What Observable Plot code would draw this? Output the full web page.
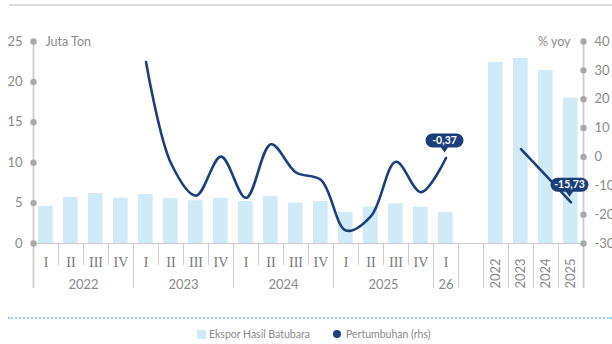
<!DOCTYPE html>
<html>
<head>
<meta charset="utf-8">
<script src="https://cdn.jsdelivr.net/npm/d3@7"></script>
<script src="https://cdn.jsdelivr.net/npm/@observablehq/plot@0.6"></script>
<style>
  body { margin: 0; background: #fff; font-family: Lato, sans-serif; }
  #wrap { position: relative; width: 612px; height: 344px; overflow: hidden; }
  #chart { position: absolute; left: 0; top: 0; }
  .topline { position: absolute; left: 9px; top: 4px; width: 603px; border-top: 2px solid #dedede; }
  .dotline { position: absolute; left: 8px; top: 317px; width: 604px; border-top: 2px dotted #93d5f2; }
  .leg { position: absolute; top: 327px; font-size: 10.5px; color: #8a8a8a; line-height: 14px; white-space: nowrap; }
  .sw { position: absolute; }
</style>
</head>
<body>
<div id="wrap">
  <div class="topline"></div>
  <div id="chart"></div>
  <div class="dotline"></div>
  <div class="sw" style="left:197px;top:330px;width:9px;height:9px;background:#d0ebf7"></div>
  <div class="leg" style="left:209px">Ekspor Hasil Batubara</div>
  <div class="sw" style="left:333px;top:330px;width:8px;height:8px;border-radius:50%;background:#1c3f7c"></div>
  <div class="leg" style="left:346px">Pertumbuhan (rhs)</div>
</div>
<script>
// ---- data ----
const quarterLabels = ["I","II","III","IV","I","II","III","IV","I","II","III","IV","I","II","III","IV","I"];
const yearGroups = ["2022","2023","2024","2025","26"];
const yearGroupSizes = [4,4,4,4,1];
const quarterlyExport = [4.6,5.7,6.2,5.6, 6.05,5.55,5.3,5.6, 5.2,5.8,5.0,5.2, 3.85,4.5,4.9,4.5, 3.85];
// yoy growth, 2023-Q1 .. 2026-Q1
const quarterlyGrowth = [32.9,-2.2,-13.4,0.1, -14.2,4.4,-5.4,-8.0, -25.5,-20.5,-1.7,-12.2, -0.37];
const annualLabels = ["2022","2023","2024","2025"];
const annualExport = [22.4,22.9,21.4,18.0];
const annualGrowth = [null,2.7,-6.5,-15.73];
const leftTicks = [0,5,10,15,20,25];
const rightTicks = [-30,-20,-10,0,10,20,30,40];
const callouts = [{label:"-0,37"},{label:"-15,73"}];

// ---- layout helpers ----
const nQ = quarterLabels.length;          // 17 quarterly slots
const annualStart = nQ + 1;               // one empty slot, then annual slots
const nSlots = annualStart + annualLabels.length;
const toLeft = v => (v + 30) * 25 / 70;   // rhs -> lhs units

const bars = [
  ...quarterlyExport.map((v,i)=>({slot:i, v})),
  ...annualExport.map((v,i)=>({slot:annualStart+i, v}))
];
const qLine = quarterlyGrowth.map((g,i)=>({slot:4+i, g}));
const aLine = annualGrowth.map((g,i)=>({slot:annualStart+i, g})).filter(d=>d.g!=null);
const qLabels = quarterLabels.map((q,i)=>({slot:i, q}));
let acc = 0;
const yLabels = yearGroups.map((y,i)=>{ const c = acc + yearGroupSizes[i]/2; acc += yearGroupSizes[i]; return {y, c}; });
const groupEdges = [0]; acc = 0; yearGroupSizes.forEach(s=>{acc+=s; groupEdges.push(acc);});
const fullSeps = [...groupEdges, ...d3.range(annualStart, nSlots+1)];
const shortSeps = d3.range(1, nQ).filter(s=>!groupEdges.includes(s));
const calloutPts = [
  {...qLine[qLine.length-1], label: callouts[0].label},
  {...aLine[aLine.length-1], label: callouts[1].label}
];

const navy = "#1c3f7c";
const grey = "#8a8a8a";
const axisGrey = "#cccccc";

const pill = {
  draw(ctx) {
    const w = 38, h = 14, r = 7, cy = -17.5;
    const top = cy - h/2, bot = cy + h/2;
    ctx.moveTo(-w/2 + r, top);
    ctx.lineTo(w/2 - r, top);
    ctx.arc(w/2 - r, cy, r, -Math.PI/2, Math.PI/2);
    ctx.lineTo(3.5, bot);
    ctx.lineTo(0, bot + 5);
    ctx.lineTo(-3.5, bot);
    ctx.lineTo(-w/2 + r, bot);
    ctx.arc(-w/2 + r, cy, r, Math.PI/2, 3*Math.PI/2);
    ctx.closePath();
  }
};

const chart = Plot.plot({
  width: 612,
  height: 300,
  marginLeft: 33,
  marginRight: 29,
  marginTop: 41,
  marginBottom: 57,
  style: {fontFamily: "Lato, sans-serif", background: "transparent"},
  x: {domain: [0, nSlots], axis: null},
  y: {domain: [0, 25], axis: null},
  marks: [
    Plot.rectY(bars, {x1: d=>d.slot, x2: d=>d.slot+1, y: "v", insetLeft: 5, insetRight: 5.3, fill: "#d0ebf7"}),
    Plot.ruleY([0], {stroke: axisGrey, strokeWidth: 1.2}),
    Plot.ruleX(shortSeps, {y1: 0, y2: 0, insetBottom: -22, stroke: axisGrey, strokeWidth: 1}),
    Plot.ruleX(fullSeps.filter(s=>s!==0 && s!==nSlots), {y1: 0, y2: 0, insetBottom: -45, stroke: axisGrey, strokeWidth: 1}),
    Plot.ruleX([0, nSlots], {insetBottom: -45, stroke: axisGrey, strokeWidth: 1.8}),
    Plot.dot(leftTicks, {x: 0, y: d=>d, r: 3.2, fill: "#a9a9a9"}),
    Plot.dot(rightTicks, {x: nSlots, y: d=>toLeft(d), r: 3.2, fill: "#a9a9a9"}),
    Plot.text(leftTicks, {x: 0, y: d=>d, text: d=>String(d), textAnchor: "end", dx: -11, fill: grey, fontSize: 13}),
    Plot.text(rightTicks, {x: nSlots, y: d=>toLeft(d), text: d=>String(d), textAnchor: "start", dx: 11, fill: grey, fontSize: 13}),
    Plot.text(["Juta Ton"], {frameAnchor: "top-left", dx: 12, lineAnchor: "middle", textAnchor: "start", fill: grey, fontSize: 12.5}),
    Plot.text(["% yoy"], {frameAnchor: "top-right", dx: -13, lineAnchor: "middle", textAnchor: "end", fill: grey, fontSize: 12.5}),
    Plot.text(qLabels, {x: d=>d.slot+0.5, text: "q", frameAnchor: "bottom", lineAnchor: "middle", dy: 19, fill: "#7a7a7a", fontSize: 14, fontFamily: "Liberation Serif, serif"}),
    Plot.text(yLabels, {x: "c", text: "y", frameAnchor: "bottom", lineAnchor: "middle", dy: 41, fill: grey, fontSize: 13}),
    Plot.text(annualLabels.map((a,i)=>({a, slot: annualStart+i})), {x: d=>d.slot+0.5, text: "a", frameAnchor: "bottom", rotate: -90, textAnchor: "start", lineAnchor: "middle", dy: 45, fill: grey, fontSize: 13}),
    Plot.line(qLine, {x: d=>d.slot+0.5, y: d=>toLeft(d.g), curve: "catmull-rom", stroke: navy, strokeWidth: 2.6}),
    Plot.line(aLine, {x: d=>d.slot+0.5, y: d=>toLeft(d.g), stroke: navy, strokeWidth: 2.6}),
    Plot.dot(calloutPts, {x: d=>d.slot+0.5, y: d=>toLeft(d.g), symbol: pill, fill: navy, stroke: "none", dx: -1.5}),
    Plot.text(calloutPts, {x: d=>d.slot+0.5, y: d=>toLeft(d.g), text: "label", dy: -17.5, dx: -1.5, fill: "white", fontWeight: "bold", fontSize: 10.5})
  ]
});
document.getElementById("chart").appendChild(chart);
</script>
</body>
</html>
